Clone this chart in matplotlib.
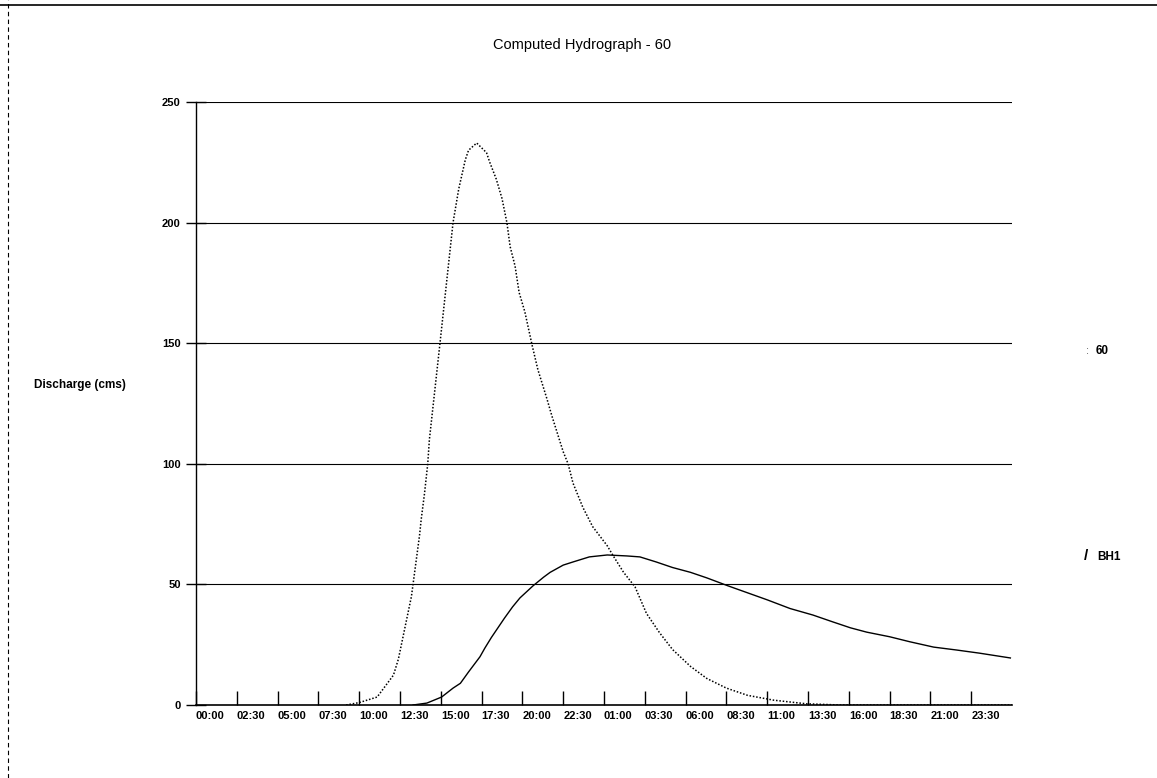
import numpy as np
import matplotlib.pyplot as plt
from matplotlib.lines import Line2D

plt.rcParams['font.family'] = ['Liberation Sans', 'DejaVu Sans']

# ============================================================
# DATA (hours from 00:00 day 1)
# ============================================================
hours_60 = [9.2, 10.0, 11.1, 12.1, 12.4, 13.2, 13.7, 13.8, 14.0, 14.2, 14.3,
            14.95, 15.75, 16.1, 16.5, 16.7, 17.2, 17.8, 18.0, 18.4, 18.75,
            19.05, 19.25, 19.55, 19.8, 20.15, 20.6, 20.95, 21.5, 21.8, 22.5,
            22.8, 23.1, 23.7, 24.3, 25.2, 25.55, 26.2, 26.9, 27.6, 28.4, 29.2,
            30.3, 31.3, 32.5, 33.8, 35.4, 37.4, 39.5, 50.0]
flow_60 = [0, 1, 3.3, 12.4, 19, 45, 70.5, 77, 87.6, 100, 110,
           150, 200, 214, 226, 230, 233, 229, 225, 218, 210,
           200, 190, 182, 171, 163, 149, 139, 127, 120, 105,
           100, 92, 82, 74, 66, 62, 55, 49, 38, 30, 23,
           16, 11, 7, 4, 2, 0.5, 0, 0]

hours_bh1 = [13.3, 14.15, 15.05, 15.75, 16.2, 16.7, 17.4, 17.7, 18.1, 18.9,
             19.4, 19.85, 20.65, 21.3, 21.7, 22.5, 23.1, 24.1, 25.2, 26.4,
             27.2, 28.2, 29.2, 30.3, 31.3, 32.6, 33.8, 35.0, 36.4, 37.8, 39.0,
             40.1, 41.1, 42.5, 43.75, 45.2, 46.6, 48.0, 49.9]
flow_bh1 = [0, 0.8, 3.3, 7, 9, 13.7, 20, 23.6, 28, 36,
            40.7, 44.4, 49.4, 53, 55, 58, 59.3, 61.4, 62.2, 61.8,
            61.4, 59.3, 57, 55, 52.7, 49.4, 46.5, 43.6, 40, 37.3, 34.5,
            32, 30.2, 28.3, 26.2, 24, 22.8, 21.5, 19.5]

tick_hours = np.arange(0, 48, 2.5)
tick_labels = ["00:00", "02:30", "05:00", "07:30", "10:00", "12:30", "15:00",
               "17:30", "20:00", "22:30", "01:00", "03:30", "06:00", "08:30",
               "11:00", "13:30", "16:00", "18:30", "21:00", "23:30"]
y_ticks = [0, 50, 100, 150, 200, 250]

# ============================================================
# PLOT
# ============================================================
fig = plt.figure(figsize=(11.57, 7.78), dpi=100)
ax = fig.add_axes([196/1157, 1-705/778, (1012-196)/1157, (705-102)/778])

for v in y_ticks[1:]:
    ax.axhline(v, color='black', lw=0.8, zorder=1)

ax.plot(hours_60, flow_60, color='black', lw=1.1, ls=(0, (1, 1.2)), zorder=3)
ax.plot(hours_bh1, flow_bh1, color='black', lw=1.0, zorder=3)

ax.set_xlim(0, 50)
ax.set_ylim(0, 250)

ax.set_xticks(tick_hours)
ax.set_xticklabels(tick_labels, ha='left', fontsize=8, fontweight='bold')
ax.set_yticks(y_ticks)
ax.set_yticklabels([str(v) for v in y_ticks], fontsize=8, fontweight='bold')
ax.tick_params(axis='x', direction='in', length=10, width=1, pad=4)
ax.tick_params(axis='y', direction='inout', length=14, width=1, pad=4)

for s in ['top', 'right']:
    ax.spines[s].set_visible(False)
ax.spines['left'].set_linewidth(1.0)
ax.spines['bottom'].set_linewidth(1.2)

fig.text(582/1157, 1-45/778, "Computed Hydrograph - 60", ha='center', va='center',
         fontsize=10.5)
fig.text(34/1157, 1-385/778, "Discharge (cms)", ha='left', va='center',
         fontsize=8.5, fontweight='bold')

# legend entries on the right
fig.text(1086/1157, 1-351/778, ":", ha='left', va='center', fontsize=8, color='#555555')
fig.text(1096/1157, 1-351/778, "60", ha='left', va='center', fontsize=8.5, fontweight='bold')
fig.text(1084/1157, 1-556/778, "/", ha='left', va='center', fontsize=11, fontweight='bold')
fig.text(1097/1157, 1-557/778, "BH1", ha='left', va='center', fontsize=8.5, fontweight='bold')

# page border left over from the scan
fig.add_artist(Line2D([0, 1], [1-5/778, 1-5/778], color='black', lw=1.2,
                      transform=fig.transFigure))
fig.add_artist(Line2D([8/1157, 8/1157], [0, 1], color='black', lw=0.8, ls=(0, (4, 3)),
                      transform=fig.transFigure))

fig.savefig("out.png", dpi=100)
